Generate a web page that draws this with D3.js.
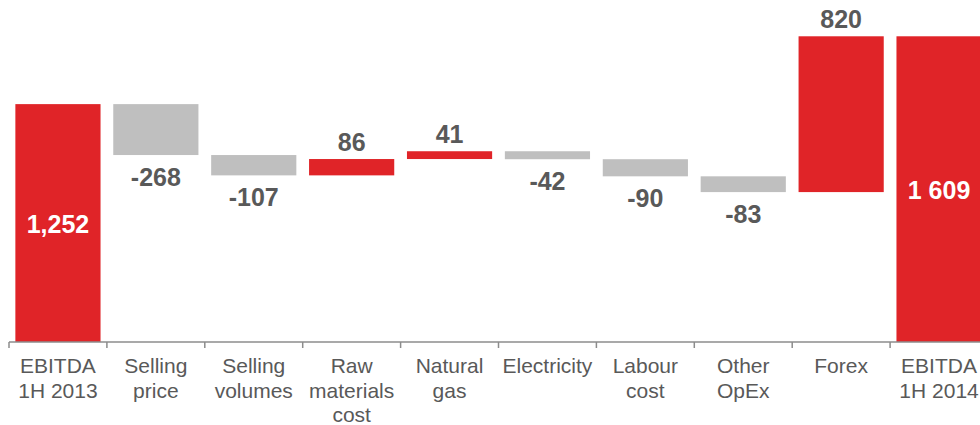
<!DOCTYPE html>
<html>
<head>
<meta charset="utf-8">
<script src="https://cdn.jsdelivr.net/npm/d3@7"></script>
<style>
  body { margin: 0; background: #fff; }
  svg { display: block; font-family: "Liberation Sans", Arial, sans-serif; }
</style>
</head>
<body>
<div id="chart"></div>
<script>
// data
var categories = [
  ['EBITDA', '1H 2013'], ['Selling', 'price'], ['Selling', 'volumes'],
  ['Raw', 'materials', 'cost'], ['Natural', 'gas'], ['Electricity'],
  ['Labour', 'cost'], ['Other', 'OpEx'], ['Forex'], ['EBITDA', '1H 2014']
];
var values = [1252, -268, -107, 86, 41, -42, -90, -83, 820, 1609];
var isTotal = [true, false, false, false, false, false, false, false, false, true];
var valueLabels = ['1,252', '-268', '-107', '86', '41', '-42', '-90', '-83', '820', '1 609'];

var width = 980, height = 425;
var red = '#E02428', grey = '#BFBFBF', textCol = '#595959';

// running totals -> start/end of every bar
var bars = [], run = 0;
values.forEach(function(v, i){
  var b = {i: i, v: v, label: valueLabels[i], total: isTotal[i]};
  if (b.total) { b.y0 = 0; b.y1 = v; run = v; }
  else { b.y0 = run; b.y1 = run + v; run += v; }
  bars.push(b);
});

var svg = d3.select('#chart').append('svg')
  .attr('width', width)
  .attr('height', height);

var x = d3.scaleBand()
  .domain(d3.range(values.length))
  .range([9, 988])
  .paddingInner(0.13)
  .paddingOuter(0.065);

var y = d3.scaleLinear()
  .domain([0, 1800])
  .range([342, 0]);

var step = x.step();

// bars
svg.selectAll('.bar')
  .data(bars)
  .enter()
  .append('rect')
    .attr('class', 'bar')
    .attr('x', function(d){ return x(d.i); })
    .attr('width', x.bandwidth())
    .attr('y', function(d){ return y(Math.max(d.y0, d.y1)); })
    .attr('height', function(d){ return Math.abs(y(d.y0) - y(d.y1)); })
    .attr('fill', function(d){ return (d.total || d.v > 0) ? red : grey; });

// axis line + ticks between categories
var axis = svg.append('g').attr('stroke', '#8C8C8C').attr('stroke-width', 1.5);
axis.append('line')
  .attr('x1', 9).attr('x2', width)
  .attr('y1', y(0)).attr('y2', y(0));
axis.selectAll('.tick')
  .data(d3.range(values.length + 1))
  .enter()
  .append('line')
    .attr('x1', function(i){ return 9 + i * step; })
    .attr('x2', function(i){ return 9 + i * step; })
    .attr('y1', y(0)).attr('y2', y(0) + 6);

// category labels
var cat = svg.selectAll('.cat')
  .data(categories)
  .enter()
  .append('text')
    .attr('class', 'cat')
    .attr('text-anchor', 'middle')
    .attr('font-size', 21)
    .attr('fill', textCol);
cat.selectAll('tspan')
  .data(function(d, i){ return d.map(function(t){ return {t: t, i: i}; }); })
  .enter()
  .append('tspan')
    .attr('x', function(d){ return x(d.i) + x.bandwidth() / 2; })
    .attr('y', function(d, j){ return 373 + j * 24.5; })
    .text(function(d){ return d.t; });

// value labels
svg.selectAll('.val')
  .data(bars)
  .enter()
  .append('text')
    .attr('class', 'val')
    .attr('text-anchor', 'middle')
    .attr('dominant-baseline', 'central')
    .attr('font-size', 25)
    .attr('font-weight', 'bold')
    .attr('fill', function(d){ return d.total ? '#fff' : textCol; })
    .attr('x', function(d){ return x(d.i) + x.bandwidth() / 2; })
    .attr('y', function(d){
      if (d.total) return (y(0) + y(d.y1)) / 2 + 1;
      if (d.v > 0) return y(d.y1) - 17;
      return y(d.y1) + 22;
    })
    .text(function(d){ return d.label; });
</script>
</body>
</html>
